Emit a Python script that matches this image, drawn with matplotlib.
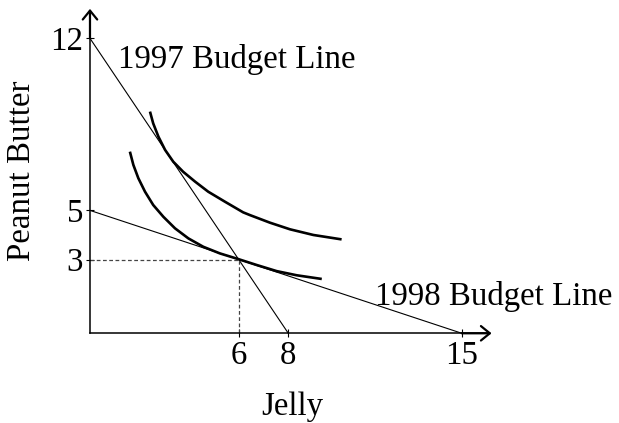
import matplotlib
matplotlib.use("Agg")
import matplotlib.pyplot as plt

# ---- data ----
budget_1997_x = [0, 8]
budget_1997_y = [12, 0]
budget_1998_x = [0, 15]
budget_1998_y = [5, 0]

ic_low_x = [1.61, 1.75, 1.95, 2.22, 2.55, 2.96, 3.43, 3.97, 4.57, 5.24, 5.98,
            6.72, 7.53, 8.34, 9.35]
ic_low_y = [7.39, 6.85, 6.31, 5.76, 5.22, 4.74, 4.27, 3.86, 3.52, 3.25, 3.02,
            2.78, 2.53, 2.36, 2.21]

ic_high_x = [2.42, 2.55, 2.76, 3.03, 3.36, 3.76, 4.24, 4.77, 5.45, 6.18, 6.45,
             7.26, 8.07, 9.01, 10.15]
ic_high_y = [9.02, 8.54, 8.00, 7.46, 6.98, 6.57, 6.17, 5.76, 5.35, 4.92, 4.81,
             4.50, 4.23, 4.00, 3.82]

opt_x = 6
opt_y = 3

x_ticks = [6, 8, 15]
y_ticks = [3, 5, 12]
x_label = "Jelly"
y_label = "Peanut Butter"
label_1997 = "1997 Budget Line"
label_1998 = "1998 Budget Line"

FONT = "Liberation Serif"
FS = 23.7

fig = plt.figure(figsize=(6.19, 4.23), dpi=100)
ax = fig.add_axes([0, 0, 1, 1])
ax.set_xlim(-3.63, 21.34)
ax.set_ylim(-3.65, 13.56)
ax.patch.set_alpha(0)

for s in ["top", "right"]:
    ax.spines[s].set_visible(False)
for s in ["left", "bottom"]:
    ax.spines[s].set_position(("data", 0))
    ax.spines[s].set_linewidth(1.1)
ax.spines["bottom"].set_bounds(0, 16.1)
ax.spines["left"].set_bounds(0, 13.1)

ax.set_xticks(x_ticks)
ax.set_yticks(y_ticks)
ax.tick_params(direction="inout", length=6, width=0.8, pad=2)
for lab in ax.get_xticklabels() + ax.get_yticklabels():
    lab.set_fontfamily(FONT)
    lab.set_fontsize(FS)

# arrows
arrow_kw = dict(arrowstyle="->,head_length=0.32,head_width=0.26", lw=1.6,
                color="black", mutation_scale=20, shrinkA=0, shrinkB=0)
ax.annotate("", xy=(16.2, 0), xytext=(15.0, 0), arrowprops=arrow_kw)
ax.annotate("", xy=(0, 13.2), xytext=(0, 12.0), arrowprops=arrow_kw)

ax.plot(budget_1997_x, budget_1997_y, color="black", lw=0.8)
ax.plot(budget_1998_x, budget_1998_y, color="black", lw=0.8)
ax.plot(ic_low_x, ic_low_y, color="black", lw=1.9, solid_capstyle="butt",
        solid_joinstyle="round")
ax.plot(ic_high_x, ic_high_y, color="black", lw=1.9, solid_capstyle="butt",
        solid_joinstyle="round")

ax.plot([0, opt_x], [opt_y, opt_y], color="#444444", lw=0.9, ls=(0, (3, 2)))
ax.plot([opt_x, opt_x], [0, opt_y], color="#444444", lw=0.9, ls=(0, (3, 2)))

ax.text(1.13, 10.78, label_1997, family=FONT, fontsize=FS, ha="left", va="baseline")
ax.text(21.06, 1.15, label_1998, family=FONT, fontsize=FS, ha="right", va="baseline")
ax.text(8.15, -3.32, x_label, family=FONT, fontsize=FS, ha="center", va="baseline")
ax.text(-2.74, 6.6, y_label, family=FONT, fontsize=FS, ha="center", va="center", rotation=90)

fig.savefig("out.png", dpi=100)
